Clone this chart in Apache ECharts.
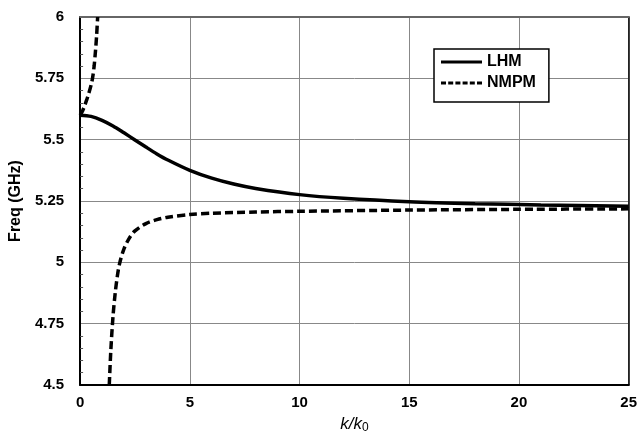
<!DOCTYPE html>
<html>
<head>
<meta charset="utf-8">
<script src="https://cdn.jsdelivr.net/npm/echarts@6/dist/echarts.min.js"></script>
<style>
html,body{margin:0;padding:0;background:#fff;}
#c{width:640px;height:440px;}
</style>
</head>
<body>
<div id="c"></div>
<script>
// Tick values
const xTicks = [0, 5, 10, 15, 20, 25];
const yTicks = [4.5, 4.75, 5, 5.25, 5.5, 5.75, 6];

// LHM (solid)
const lhmK = [0, 0.5, 1, 1.5, 2, 2.5, 3, 3.5, 4, 5, 6, 7, 8, 10, 12, 15, 18, 21, 25];
const lhmF = [5.6, 5.595, 5.579, 5.556, 5.528, 5.499, 5.47, 5.442, 5.417, 5.375, 5.343, 5.319, 5.301, 5.276, 5.261, 5.247, 5.239, 5.234, 5.229];

// NMPM upper branch (dashed)
const nmpmUpK = [0, 0.1, 0.2, 0.3, 0.4, 0.5, 0.57, 0.64, 0.7, 0.75, 0.8];
const nmpmUpF = [5.6, 5.615, 5.637, 5.662, 5.69, 5.722, 5.752, 5.8, 5.86, 5.92, 6.0];

// NMPM lower branch (dashed)
const nmpmLoK = [1.33, 1.4, 1.5, 1.6, 1.7, 1.8, 2.0, 2.25, 2.5, 3.0, 3.5, 4.0, 5.0, 6.0, 8.0, 10, 15, 20, 25];
const nmpmLoF = [4.5, 4.64, 4.78, 4.875, 4.945, 4.995, 5.055, 5.1, 5.128, 5.158, 5.174, 5.184, 5.195, 5.2, 5.205, 5.208, 5.213, 5.216, 5.218];

const zip = (a, b) => a.map((v, i) => [v, b[i]]);
const FONT = 'Liberation Sans';

const chart = echarts.init(document.getElementById('c'), null, {renderer: 'canvas'});
chart.setOption({
  animation: false,
  backgroundColor: '#fff',
  grid: {left: 79, right: 9, top: 17, bottom: 55, containLabel: false},
  legend: {
    left: 434, top: 49,
    orient: 'vertical',
    data: [
      {name: 'LHM', icon: 'path://M0,0h41v3h-41z'},
      {name: 'NMPM', icon: 'path://M0,0h5v3h-5z M7.2,0h5v3h-5z M14.4,0h5v3h-5z M21.6,0h5v3h-5z M28.8,0h5v3h-5z M36,0h5v3h-5z'}
    ],
    backgroundColor: '#fff',
    borderColor: '#000',
    borderWidth: 1.5,
    borderRadius: 0,
    padding: [4, 13, 10, 7],
    itemGap: 3,
    itemWidth: 41,
    itemHeight: 3,
    itemStyle: {color: '#000'},
    textStyle: {fontFamily: FONT, fontWeight: 'bold', fontSize: 16, lineHeight: 18, color: '#000'}
  },
  xAxis: [{
    type: 'value',
    min: xTicks[0], max: xTicks[xTicks.length - 1], interval: 5,
    name: '{i|k/k}{s|0}',
    nameLocation: 'middle',
    nameGap: 29,
    nameTextStyle: {
      rich: {
        i: {fontFamily: FONT, fontStyle: 'italic', fontSize: 17, color: '#000'},
        s: {fontFamily: FONT, fontSize: 12, color: '#000', verticalAlign: 'bottom', padding: [8, 0, 0, 0]}
      }
    },
    axisLine: {show: true, onZero: false, lineStyle: {color: '#000', width: 2}},
    axisTick: {show: false},
    axisLabel: {fontFamily: FONT, fontWeight: 'bold', fontSize: 15, color: '#000', margin: 10},
    splitLine: {show: true, lineStyle: {color: '#888', width: 1}}
  }, {
    type: 'value', position: 'top',
    min: xTicks[0], max: xTicks[xTicks.length - 1], interval: 5,
    axisLine: {show: true, onZero: false, lineStyle: {color: '#666', width: 2}},
    axisTick: {show: false}, axisLabel: {show: false}, splitLine: {show: false}
  }],
  yAxis: [{
    type: 'value',
    min: yTicks[0], max: yTicks[yTicks.length - 1], interval: 0.25,
    name: 'Freq (GHz)',
    nameLocation: 'middle',
    nameGap: 46,
    nameTextStyle: {fontFamily: FONT, fontWeight: 'bold', fontSize: 16, color: '#000'},
    axisLine: {show: true, onZero: false, lineStyle: {color: '#000', width: 2}},
    axisTick: {show: false, inside: true},
    minorTick: {show: true, splitNumber: 5, length: 3, lineStyle: {color: '#555'}},
    axisLabel: {fontFamily: FONT, fontWeight: 'bold', fontSize: 15, color: '#000', margin: 16,
      formatter: v => String(+v.toFixed(2))},
    splitLine: {show: true, lineStyle: {color: '#888', width: 1}}
  }, {
    type: 'value', position: 'right',
    min: yTicks[0], max: yTicks[yTicks.length - 1], interval: 0.25,
    axisLine: {show: true, onZero: false, lineStyle: {color: '#000', width: 1.5}},
    axisTick: {show: false}, axisLabel: {show: false}, splitLine: {show: false}
  }],
  series: [{
    name: 'LHM', type: 'line', xAxisIndex: 0, yAxisIndex: 0,
    data: zip(lhmK, lhmF),
    smooth: 0.3,
    showSymbol: false, symbol: 'none',
    lineStyle: {color: '#000', width: 3.5},
    itemStyle: {color: '#000'}
  }, {
    name: 'NMPM', type: 'line', xAxisIndex: 0, yAxisIndex: 0,
    data: zip(nmpmUpK, nmpmUpF),
    smooth: 0.3,
    showSymbol: false, symbol: 'none',
    lineStyle: {color: '#000', width: 3.5, type: [8, 4]},
    itemStyle: {color: '#000'}
  }, {
    name: 'NMPM', type: 'line', xAxisIndex: 0, yAxisIndex: 0,
    data: zip(nmpmLoK, nmpmLoF),
    smooth: 0.3,
    showSymbol: false, symbol: 'none',
    lineStyle: {color: '#000', width: 3.5, type: [8, 4]},
    itemStyle: {color: '#000'}
  }]
});
</script>
</body>
</html>
